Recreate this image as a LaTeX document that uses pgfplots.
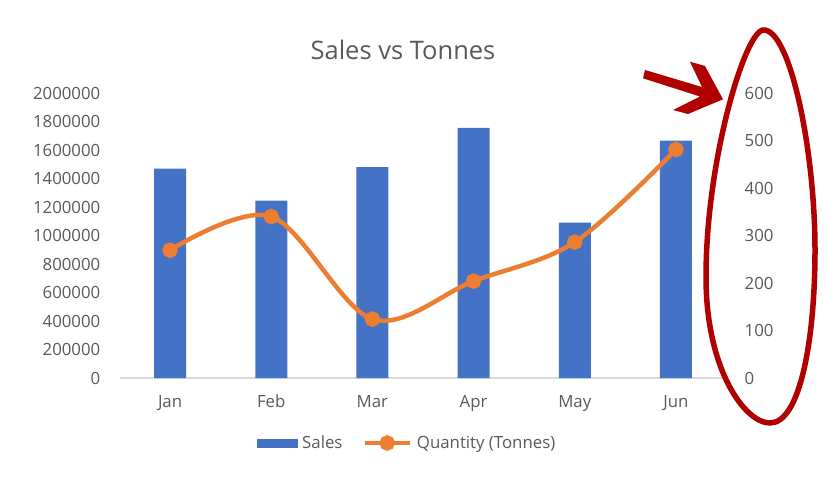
\documentclass[border=0pt]{standalone}
\usepackage{pgfplots}
\pgfplotsset{compat=1.18}
\usepackage{fontspec}
\setmainfont{Open Sans}
\definecolor{barblue}{HTML}{4472C4}
\definecolor{lineorange}{HTML}{ED7D31}
\definecolor{txtgray}{HTML}{595959}
\definecolor{axgray}{HTML}{D9D9D9}
\definecolor{annred}{HTML}{B00000}
\begin{document}
\begin{tikzpicture}[x=1pt,y=1pt]
\path (0,0) rectangle (827,490);
\begin{axis}[
  at={(119.5pt,112pt)}, anchor=south west,
  scale only axis, width=607pt, height=285pt,
  xmin=-0.5, xmax=5.5, ymin=0, ymax=2000000,
  axis x line*=bottom, axis y line*=left,
  x axis line style={axgray, line width=1.5pt, -},
  y axis line style={draw=none},
  major tick length=0pt,
  xtick={0,...,5}, xticklabels={Jan,Feb,Mar,Apr,May,Jun},
  ytick={0,200000,...,2000000},
  scaled y ticks=false,
  /pgf/number format/.cd, fixed, 1000 sep={}, assume math mode=true, /pgfplots/.cd,
  tick label style={font=\fontsize{16.8}{19}\selectfont, text=txtgray},
  yticklabel style={anchor=east, inner sep=0pt, xshift=-19pt},
  xticklabel style={anchor=north, inner sep=0pt, yshift=-17pt},
  ybar, bar width=32pt,
]
\addplot[fill=barblue, draw=none] coordinates {
  (0,1470000) (1,1245000) (2,1480000) (3,1755000) (4,1090000) (5,1665000)};
\end{axis}
\begin{axis}[
  at={(119.5pt,112pt)}, anchor=south west,
  scale only axis, width=607pt, height=285pt,
  xmin=-0.5, xmax=5.5, ymin=0, ymax=600,
  axis x line=none, axis y line*=right,
  y axis line style={draw=none},
  major tick length=0pt,
  ytick={0,100,...,600},
  /pgf/number format/.cd, fixed, 1000 sep={}, assume math mode=true, /pgfplots/.cd,
  tick label style={font=\fontsize{16.8}{19}\selectfont, text=txtgray},
  yticklabel style={anchor=west, inner sep=0pt, xshift=18pt},
  legend style={draw=none, at={(0.4737,-0.228)}, anchor=center,
    font=\fontsize{16.8}{19}\selectfont, text=txtgray,
    /tikz/every odd column/.append style={column sep=3pt},
    /tikz/every even column/.append style={column sep=18pt}},
  legend columns=2,
]
\addlegendimage{legend image code/.code={\fill[barblue] (0pt,-4pt) rectangle (40pt,4pt);}}
\addlegendentry{Sales}
\addplot[lineorange, line width=4.5pt, smooth, tension=0.55,
  mark=*, mark size=5.5pt, mark options={draw=none, fill=lineorange},
  legend image code/.code={\draw[lineorange, line width=4.5pt] (0pt,0pt) -- (45pt,0pt);
    \fill[lineorange] (22.5pt,0pt) circle (5.5pt);}]
  coordinates {(0,269) (1,340) (2,124) (3,204) (4,286) (5,481)};
\addlegendentry{Quantity (Tonnes)}
\end{axis}
\node[text=txtgray, font=\fontsize{25.5}{30}\selectfont] at (403,440) {Sales vs Tonnes};
% annotation ellipse (pixel coords: y_tikz = 490 - y_px)
\draw[annred, line width=5.5pt]
  (763,460) .. controls (745,458) and (706,330) .. (706,213)
  .. controls (706,120) and (745,67) .. (770,67)
  .. controls (800,67) and (815,150) .. (815,240)
  .. controls (815,340) and (790,462) .. (763,460) -- cycle;
% annotation arrow
\fill[annred] (645,420) -- (702,403) -- (690,428.3) -- (705,424) -- (723,390.7)
  -- (688,376) -- (673,380) -- (700,393.5) -- (643,411.7) -- cycle;
\end{tikzpicture}
\end{document}
